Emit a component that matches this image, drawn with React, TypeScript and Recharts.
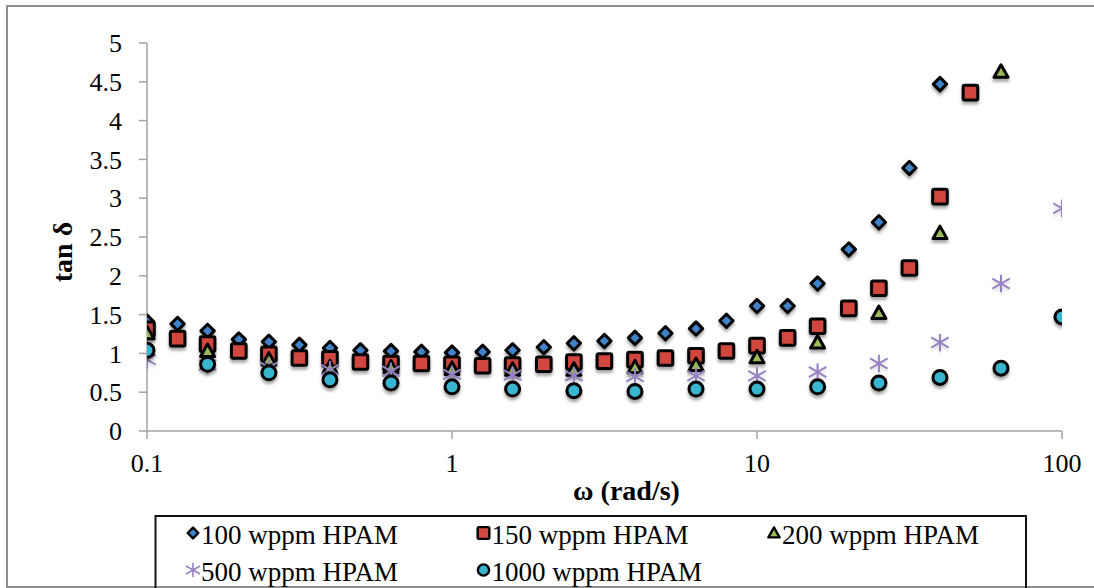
import React from 'react';
import { ScatterChart, Scatter, XAxis, YAxis } from 'recharts';

// ω (rad/s) sampling: 10 points per decade and 5 points per decade
const omegaFull = [0.1, 0.126, 0.158, 0.2, 0.251, 0.316, 0.398, 0.501, 0.631, 0.794, 1, 1.26, 1.58, 2, 2.51, 3.16, 3.98, 5.01, 6.31, 7.94, 10, 12.6, 15.8, 20, 25.1, 31.6, 39.8, 50.1];
const omegaHalf = [0.1, 0.158, 0.251, 0.398, 0.631, 1, 1.58, 2.51, 3.98, 6.31, 10, 15.8, 25.1, 39.8, 63.1, 100];

// tan δ values
const tan100 = [1.41, 1.38, 1.29, 1.18, 1.15, 1.11, 1.07, 1.04, 1.03, 1.02, 1.01, 1.02, 1.04, 1.08, 1.13, 1.16, 1.2, 1.26, 1.32, 1.42, 1.61, 1.61, 1.9, 2.34, 2.69, 3.39, 4.47];
const tan150 = [1.31, 1.19, 1.12, 1.03, 0.99, 0.94, 0.93, 0.89, 0.87, 0.87, 0.86, 0.84, 0.85, 0.86, 0.89, 0.9, 0.92, 0.94, 0.97, 1.03, 1.1, 1.2, 1.35, 1.58, 1.84, 2.1, 3.02, 4.36];
const tan200 = [1.26, 1.03, 0.92, 0.82, 0.82, 0.8, 0.79, 0.79, 0.82, 0.85, 0.95, 1.14, 1.52, 2.55, 4.63];
const tan500 = [0.92, 0.85, 0.82, 0.79, 0.77, 0.73, 0.72, 0.71, 0.7, 0.71, 0.71, 0.76, 0.87, 1.14, 1.9, 2.87];
const tan1000 = [1.04, 0.86, 0.75, 0.66, 0.62, 0.57, 0.54, 0.52, 0.51, 0.54, 0.54, 0.57, 0.62, 0.69, 0.81, 1.47];

const xTicks = [0.1, 1, 10, 100];
const yTicks = [0, 0.5, 1, 1.5, 2, 2.5, 3, 3.5, 4, 4.5, 5];
const seriesNames = ['100 wppm HPAM', '150 wppm HPAM', '200 wppm HPAM', '500 wppm HPAM', '1000 wppm HPAM'];

const toPoints = (xs: number[], ys: number[]) => ys.map((y, i) => ({ x: xs[i], y }));
const d100 = toPoints(omegaFull, tan100);
const d150 = toPoints(omegaFull, tan150);
const d200 = toPoints(omegaHalf, tan200);
const d500 = toPoints(omegaHalf, tan500);
const d1000 = toPoints(omegaHalf, tan1000);

const C_BLUE = '#3f83c9';
const C_RED = '#d2473e';
const C_GREEN = '#9bbb59';
const C_PURPLE = '#9682c2';
const C_CYAN = '#37b5cf';
const FONT = '"Liberation Serif", "Times New Roman", serif';
const AXIS = '#a3a3a3';

type MP = { cx?: number; cy?: number; s?: number; shadow?: boolean };

const Diamond = ({ cx = 0, cy = 0, s = 1, shadow = true }: MP) => {
  const r = 6.7 * s;
  return (
    <path
      d={`M${cx},${cy - r}L${cx + r},${cy}L${cx},${cy + r}L${cx - r},${cy}Z`}
      fill={C_BLUE}
      stroke="#000"
      strokeWidth={3 * s}
      strokeLinejoin="round"
      filter={shadow ? 'url(#mkShadow)' : undefined}
    />
  );
};
const Square = ({ cx = 0, cy = 0, s = 1, shadow = true }: MP) => {
  const r = 7.3 * s;
  return (
    <rect
      x={cx - r}
      y={cy - r}
      width={2 * r}
      height={2 * r}
      rx={1.5 * s}
      fill={C_RED}
      stroke="#000"
      strokeWidth={3 * s}
      filter={shadow ? 'url(#mkShadow)' : undefined}
    />
  );
};
const Triangle = ({ cx = 0, cy = 0, s = 1, shadow = true }: MP) => {
  const w = 7 * s;
  return (
    <path
      d={`M${cx},${cy - 7 * s}L${cx + w},${cy + 5.5 * s}L${cx - w},${cy + 5.5 * s}Z`}
      fill={C_GREEN}
      stroke="#000"
      strokeWidth={3 * s}
      strokeLinejoin="round"
      filter={shadow ? 'url(#mkShadow)' : undefined}
    />
  );
};
const Star = ({ cx = 0, cy = 0, s = 1, shadow = true }: MP) => {
  const r = 8.7 * s;
  return (
    <g stroke={C_PURPLE} strokeWidth={2 * s} filter={shadow ? 'url(#mkShadowLight)' : undefined}>
      <line x1={cx} y1={cy - r} x2={cx} y2={cy + r} />
      <line x1={cx - r} y1={cy - r * 0.58} x2={cx + r} y2={cy + r * 0.58} />
      <line x1={cx - r} y1={cy + r * 0.58} x2={cx + r} y2={cy - r * 0.58} />
    </g>
  );
};
const Circle = ({ cx = 0, cy = 0, s = 1, shadow = true }: MP) => (
  <circle
    cx={cx}
    cy={cy}
    r={7 * s}
    fill={C_CYAN}
    stroke="#000"
    strokeWidth={3 * s}
    filter={shadow ? 'url(#mkShadow)' : undefined}
  />
);

const markers = [Diamond, Square, Triangle, Star, Circle];

const XLabel = (props: any) => {
  const vb = props.viewBox || {};
  return (
    <text
      x={vb.x + vb.width / 2 + 22}
      y={vb.y + 59}
      textAnchor="middle"
      dominantBaseline="central"
      fontFamily={FONT}
      fontWeight="bold"
      fontSize={28}
      fill="#000"
    >
      ω (rad/s)
    </text>
  );
};

const YLabel = (props: any) => {
  const vb = props.viewBox || {};
  const x = vb.x + 15;
  const y = vb.y + vb.height / 2 + 15;
  return (
    <text
      x={x}
      y={y}
      transform={`rotate(-90, ${x}, ${y})`}
      textAnchor="middle"
      dominantBaseline="central"
      fontFamily={FONT}
      fontWeight="bold"
      fontSize={28}
      fill="#000"
    >
      tan δ
    </text>
  );
};

const tickStyle = { fontFamily: FONT, fontSize: 26, fill: '#000' };

export default function App() {
  const colX = [193, 483.5, 774];
  const rowY = [533, 570];
  const legendItems = seriesNames.map((name, i) => ({
    name,
    Marker: markers[i],
    mx: colX[i % 3],
    my: rowY[Math.floor(i / 3)],
  }));
  return (
    <div
      style={{
        position: 'absolute',
        left: 0,
        top: 0,
        width: 1094,
        height: 588,
        background: '#fff',
        overflow: 'hidden',
        fontFamily: FONT,
      }}
    >
      <svg width={0} height={0} style={{ position: 'absolute' }}>
        <defs>
          <filter id="mkShadow" x="-60%" y="-60%" width="220%" height="220%">
            <feDropShadow dx="0" dy="3" stdDeviation="1.6" floodColor="#000" floodOpacity="0.35" />
          </filter>
          <filter id="mkShadowLight" x="-60%" y="-60%" width="220%" height="220%">
            <feDropShadow dx="0" dy="2.5" stdDeviation="1.4" floodColor="#000" floodOpacity="0.15" />
          </filter>
        </defs>
      </svg>
      <div
        style={{
          position: 'absolute',
          left: 6,
          top: 5,
          width: 1110,
          height: 583,
          border: '2px solid #909090',
          boxSizing: 'border-box',
        }}
      />
      <div style={{ position: 'absolute', left: 0, top: 0 }}>
        <ScatterChart width={1094} height={588} margin={{ top: 43, right: 32, bottom: 77, left: 47 }}>
          <XAxis
            dataKey="x"
            type="number"
            scale="log"
            domain={[0.1, 100]}
            ticks={xTicks}
            interval={0}
            allowDataOverflow
            height={80}
            tickFormatter={(v: number) => String(v)}
            tick={tickStyle}
            tickSize={8}
            tickMargin={15}
            stroke={AXIS}
            axisLine={{ stroke: AXIS, strokeWidth: 1.5 }}
            tickLine={{ stroke: AXIS, strokeWidth: 1.5 }}
            label={XLabel}
          />
          <YAxis
            dataKey="y"
            type="number"
            domain={[0, 5]}
            ticks={yTicks}
            interval={0}
            width={100}
            tick={tickStyle}
            tickSize={8}
            tickMargin={17}
            stroke={AXIS}
            axisLine={{ stroke: AXIS, strokeWidth: 1.5 }}
            tickLine={{ stroke: AXIS, strokeWidth: 1.5 }}
            label={YLabel}
          />
          <Scatter name={seriesNames[0]} data={d100} shape={(p: any) => <Diamond cx={p.cx} cy={p.cy} />} isAnimationActive={false} />
          <Scatter name={seriesNames[1]} data={d150} shape={(p: any) => <Square cx={p.cx} cy={p.cy} />} isAnimationActive={false} />
          <Scatter name={seriesNames[2]} data={d200} shape={(p: any) => <Triangle cx={p.cx} cy={p.cy} />} isAnimationActive={false} />
          <Scatter name={seriesNames[3]} data={d500} shape={(p: any) => <Star cx={p.cx} cy={p.cy} />} isAnimationActive={false} />
          <Scatter name={seriesNames[4]} data={d1000} shape={(p: any) => <Circle cx={p.cx} cy={p.cy} />} isAnimationActive={false} />
        </ScatterChart>
      </div>
      <svg width={1094} height={588} style={{ position: 'absolute', left: 0, top: 0, pointerEvents: 'none' }}>
        <rect x={155.5} y={516} width={870.5} height={100} fill="none" stroke="#111" strokeWidth={2} />
        {legendItems.map(({ name, Marker, mx, my }) => (
          <g key={name}>
            <Marker cx={mx} cy={my} s={0.8} shadow={false} />
            <text x={mx + 8} y={my + 5} fontFamily={FONT} fontSize={27} fill="#000" dominantBaseline="middle">
              {name}
            </text>
          </g>
        ))}
      </svg>
    </div>
  );
}
